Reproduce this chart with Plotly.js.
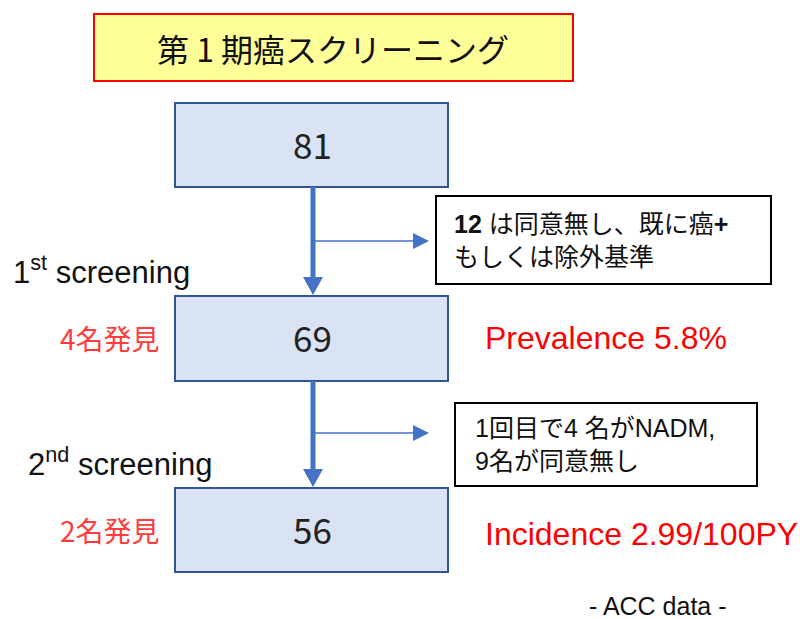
<!DOCTYPE html>
<html>
<head>
<meta charset="utf-8">
<script src="https://cdn.plot.ly/plotly-3.0.1.min.js"></script>
<style>html,body{margin:0;padding:0;background:#fff;}#chart{width:800px;height:619px;}</style>
</head>
<body>
<div id="chart"></div>
<script>
// ---- data ----
const chartTitle = '第 1 期癌スクリーニング';
const stageCounts = [81, 69, 56];
const screeningRounds = ['1<sup>st</sup> screening', '2<sup>nd</sup> screening'];
const casesFound = ['4名発見', '2名発見'];
const rateLabels = ['Prevalence 5.8%', 'Incidence 2.99/100PY'];
const exclusionNotes = [
  '<b>12</b> は同意無し、既に癌<b>+</b><br>もしくは除外基準',
  '1回目で4 名がNADM,<br>9名が同意無し'
];
const sourceNote = '- ACC data -';

// ---- layout geometry (pixel space of the 800x619 canvas) ----
const boxX0 = 175, boxX1 = 448, boxCx = 312;
const boxTops = [103, 296, 488];
const boxBottoms = [187, 381, 572];
const noteBoxes = [{x0: 436, x1: 771, y0: 196, y1: 284, tx: 452, size: 25},
                   {x0: 455, x1: 757, y0: 403, y1: 486, tx: 473, size: 25}];
const branchY = [241, 433];
const roundLabelPos = [{x: 11, y: 270}, {x: 26, y: 462}];
const rowMid = [338, 530];

const JP = '"Noto Sans CJK JP", "Noto Sans", sans-serif';
const ARIAL = '"Liberation Sans", Arial, "Noto Sans CJK JP", sans-serif';
const blue = '#4472C4';

const shapes = [];
const annotations = [];

// title box
shapes.push({type: 'rect', xref: 'x', yref: 'y', x0: 94, x1: 573, y0: 14, y1: 81,
  fillcolor: '#FFFF99', line: {color: '#FF0000', width: 2}, layer: 'below'});
annotations.push({xref: 'x', yref: 'y', x: 333, y: 48, text: chartTitle, showarrow: false,
  font: {family: JP, size: 32, color: '#111'}, xanchor: 'center', yanchor: 'middle'});

// stage boxes
stageCounts.forEach((n, i) => {
  shapes.push({type: 'rect', xref: 'x', yref: 'y', x0: boxX0, x1: boxX1, y0: boxTops[i], y1: boxBottoms[i],
    fillcolor: '#DAE3F3', line: {color: '#2F5597', width: 2}});
  annotations.push({xref: 'x', yref: 'y', x: boxCx, y: (boxTops[i] + boxBottoms[i]) / 2 - 2, text: String(n),
    showarrow: false, font: {family: JP, size: 35, color: '#222'}, xanchor: 'center', yanchor: 'middle'});
});

// arrows between stages
for (let i = 0; i < 2; i++) {
  const yA = boxBottoms[i], yB = boxTops[i + 1];
  shapes.push({type: 'line', xref: 'x', yref: 'y', x0: boxCx + 1, x1: boxCx + 1, y0: yA, y1: yB - 16,
    line: {color: blue, width: 5}});
  shapes.push({type: 'path', xref: 'x', yref: 'y',
    path: `M ${boxCx - 9} ${yB - 19} L ${boxCx + 11} ${yB - 19} L ${boxCx + 1} ${yB - 1} Z`,
    fillcolor: blue, line: {color: blue, width: 0}});
  const by = branchY[i];
  shapes.push({type: 'line', xref: 'x', yref: 'y', x0: boxCx + 2, x1: 415, y0: by, y1: by,
    line: {color: blue, width: 1.5}});
  shapes.push({type: 'path', xref: 'x', yref: 'y',
    path: `M 413 ${by - 8} L 413 ${by + 8} L 429 ${by} Z`,
    fillcolor: blue, line: {color: blue, width: 0}});
}

// exclusion notes
exclusionNotes.forEach((t, i) => {
  const b = noteBoxes[i];
  shapes.push({type: 'rect', xref: 'x', yref: 'y', x0: b.x0, x1: b.x1, y0: b.y0, y1: b.y1,
    fillcolor: '#FFFFFF', line: {color: '#000000', width: 2}});
  annotations.push({xref: 'x', yref: 'y', x: b.tx, y: (b.y0 + b.y1) / 2, text: t, showarrow: false,
    align: 'left', font: {family: ARIAL, size: b.size, color: '#111'}, xanchor: 'left', yanchor: 'middle'});
});

// screening round labels, found cases, rates
screeningRounds.forEach((t, i) => {
  annotations.push({xref: 'x', yref: 'y', x: roundLabelPos[i].x, y: roundLabelPos[i].y, text: t, showarrow: false,
    font: {family: ARIAL, size: 31, color: '#111'}, xanchor: 'left', yanchor: 'middle'});
  annotations.push({xref: 'x', yref: 'y', x: 162, y: rowMid[i], text: casesFound[i], showarrow: false,
    font: {family: JP, size: 28, color: '#FF3B3B'}, xanchor: 'right', yanchor: 'middle'});
  annotations.push({xref: 'x', yref: 'y', x: 483, y: rowMid[i] + (i === 1 ? 4 : 0), text: rateLabels[i], showarrow: false,
    font: {family: ARIAL, size: 32, color: '#FF0000'}, xanchor: 'left', yanchor: 'middle'});
});

annotations.push({xref: 'x', yref: 'y', x: 658, y: 606, text: sourceNote, showarrow: false,
  font: {family: ARIAL, size: 25, color: '#111'}, xanchor: 'center', yanchor: 'middle'});

const layout = {
  width: 800, height: 619,
  margin: {l: 0, r: 0, t: 0, b: 0},
  paper_bgcolor: '#FFFFFF', plot_bgcolor: '#FFFFFF',
  xaxis: {range: [0, 800], visible: false, fixedrange: true},
  yaxis: {range: [619, 0], visible: false, fixedrange: true},
  showlegend: false,
  shapes: shapes,
  annotations: annotations
};

Plotly.newPlot('chart', [{x: [], y: [], type: 'scatter', hoverinfo: 'skip'}], layout, {staticPlot: true, displayModeBar: false});
</script>
</body>
</html>
